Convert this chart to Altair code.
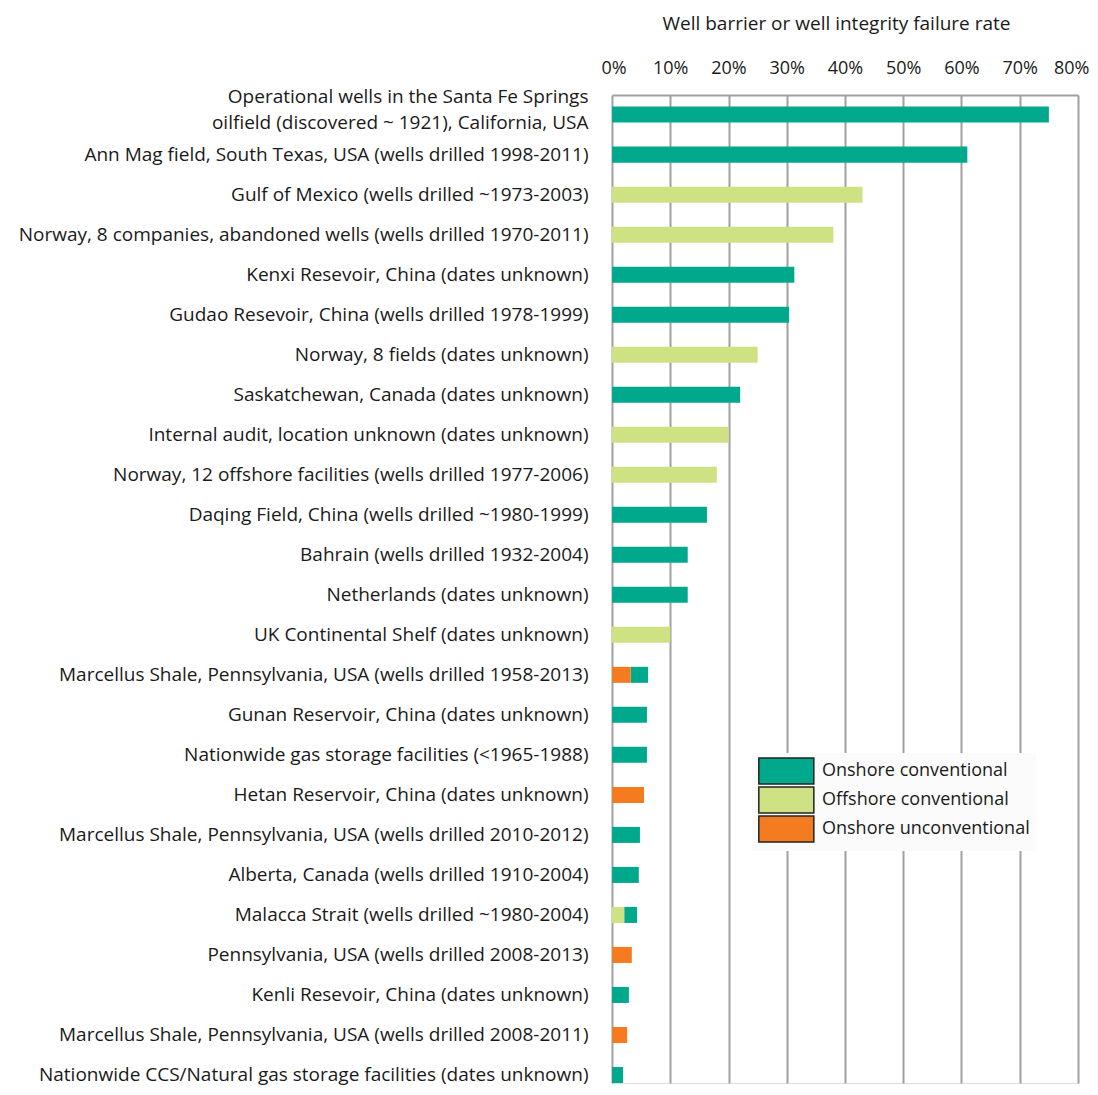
import altair as alt
import pandas as pd

categories = [
    "Operational wells in the Santa Fe Springs|oilfield (discovered ~ 1921), California, USA",
    "Ann Mag field, South Texas, USA (wells drilled 1998-2011)",
    "Gulf of Mexico (wells drilled ~1973-2003)",
    "Norway, 8 companies, abandoned wells (wells drilled 1970-2011)",
    "Kenxi Resevoir, China (dates unknown)",
    "Gudao Resevoir, China (wells drilled 1978-1999)",
    "Norway, 8 fields (dates unknown)",
    "Saskatchewan, Canada (dates unknown)",
    "Internal audit, location unknown (dates unknown)",
    "Norway, 12 offshore facilities (wells drilled 1977-2006)",
    "Daqing Field, China (wells drilled ~1980-1999)",
    "Bahrain (wells drilled 1932-2004)",
    "Netherlands (dates unknown)",
    "UK Continental Shelf (dates unknown)",
    "Marcellus Shale, Pennsylvania, USA (wells drilled 1958-2013)",
    "Gunan Reservoir, China (dates unknown)",
    "Nationwide gas storage facilities (<1965-1988)",
    "Hetan Reservoir, China (dates unknown)",
    "Marcellus Shale, Pennsylvania, USA (wells drilled 2010-2012)",
    "Alberta, Canada (wells drilled 1910-2004)",
    "Malacca Strait (wells drilled ~1980-2004)",
    "Pennsylvania, USA (wells drilled 2008-2013)",
    "Kenli Resevoir, China (dates unknown)",
    "Marcellus Shale, Pennsylvania, USA (wells drilled 2008-2011)",
    "Nationwide CCS/Natural gas storage facilities (dates unknown)",
]

onshore_conventional = [75, 61, 0, 0, 31.3, 30.4, 0, 22, 0, 0, 16.3, 13, 13, 0,
                        3.0, 6.0, 6.0, 0, 4.8, 4.6, 2.2, 0, 2.9, 0, 1.9]
offshore_conventional = [0, 0, 43, 38, 0, 0, 25, 0, 20, 18, 0, 0, 0, 10,
                         0, 0, 0, 0, 0, 0, 2.1, 0, 0, 0, 0]
onshore_unconventional = [0, 0, 0, 0, 0, 0, 0, 0, 0, 0, 0, 0, 0, 0,
                          3.2, 0, 0, 5.5, 0, 0, 0, 3.4, 0, 2.6, 0]

series_names = ["Onshore conventional", "Offshore conventional", "Onshore unconventional"]
series_colors = ["#00A98B", "#CFE283", "#F47B20"]
stack_order = [2, 1, 1]

rows = []
for i, cat in enumerate(categories):
    for name, vals, o in zip(series_names,
                             [onshore_conventional, offshore_conventional, onshore_unconventional],
                             stack_order):
        if vals[i] > 0:
            rows.append({"site": cat, "type": name, "rate": vals[i] / 100.0, "ord": o})
df = pd.DataFrame(rows)

FONT = "Open Sans"
TXT = "#1a1a1a"
GRID = "#a0a0a0"

chart = alt.Chart(df).mark_bar().encode(
    y=alt.Y("site:N", sort=categories,
            scale=alt.Scale(paddingInner=0.6, paddingOuter=0.145, align=1),
            axis=alt.Axis(title=None, ticks=False, domain=False, labelPadding=24,
                          labelFontSize=19, labelColor=TXT, labelFont=FONT,
                          labelLimit=700, labelLineHeight=26,
                          labelOffset={"condition": {"test": "indexof(datum.label, '|') >= 0",
                                                     "value": -18}, "value": 0},
                          labelExpr="split(datum.label, '|')")),
    x=alt.X("rate:Q", stack="zero",
            scale=alt.Scale(domain=[0, 0.8], nice=False),
            axis=alt.Axis(orient="top", format="%", values=[0, .1, .2, .3, .4, .5, .6, .7, .8],
                          title="Well barrier or well integrity failure rate",
                          titleFont=FONT, titleFontSize=19, titleFontWeight="normal",
                          titleColor=TXT, titlePadding=26, titleX=224,
                          labelFont=FONT, labelFontSize=18, labelColor=TXT,
                          labelPadding=18, labelFlush=True, labelFlushOffset=11,
                          ticks=False,
                          domain=True, domainColor=GRID, domainWidth=2,
                          grid=True, gridColor=GRID, gridWidth=2)),
    color=alt.Color("type:N",
                    scale=alt.Scale(domain=series_names, range=series_colors),
                    legend=alt.Legend(title=None, orient="none", legendX=140, legendY=658,
                                      symbolType="M-1,-1.16H3.92V1.16H-1Z", symbolSize=500,
                                      symbolStrokeColor="#222", symbolStrokeWidth=1.5,
                                      symbolOpacity=1, labelLimit=400,
                                      labelFont=FONT, labelFontSize=18, labelColor=TXT,
                                      labelOffset=40, rowPadding=-3, padding=6,
                                      fillColor="#fbfbfb")),
    order=alt.Order("ord:Q"),
).properties(
    width=466, height=988,
    autosize=alt.AutoSizeParams(type="none"),
    padding={"left": 604, "top": 87, "right": 12, "bottom": 4},
).configure_view(strokeWidth=0).configure(background="white")

chart.save("out.html", embed_options={"renderer": "svg", "actions": False})
